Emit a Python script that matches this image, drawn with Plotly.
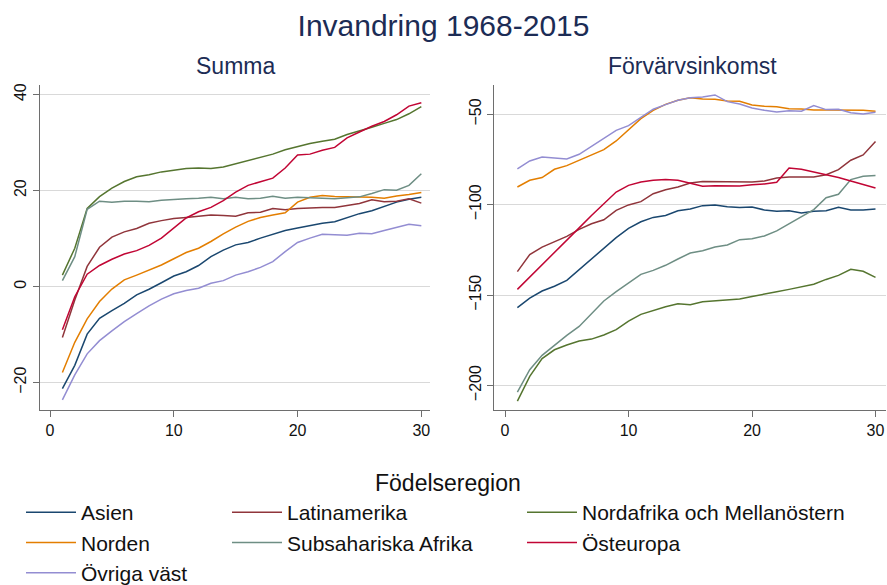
import plotly.graph_objects as go

x_years = list(range(1, 31))

series_names = ["Asien", "Latinamerika", "Nordafrika och Mellanöstern",
                "Norden", "Subsahariska Afrika", "Östeuropa", "Övriga väst"]

colors = {
    "Asien": "#1a476f",
    "Latinamerika": "#90353b",
    "Nordafrika och Mellanöstern": "#55752f",
    "Norden": "#e37e00",
    "Subsahariska Afrika": "#6e8e84",
    "Östeuropa": "#c10534",
    "Övriga väst": "#938dd2",
}

# Summa (left panel)
summa_asien = [-21.25, -16.4, -9.9, -6.6, -5.0, -3.5, -1.7, -0.55, 0.8, 2.2,
               3.1, 4.4, 6.25, 7.6, 8.7, 9.2, 10.1, 10.9, 11.7, 12.2,
               12.7, 13.2, 13.5, 14.4, 15.2, 15.8, 16.7, 17.6, 18.2, 18.6]
summa_latin = [-10.6, -2.8, 4.2, 8.2, 10.3, 11.4, 12.1, 13.2, 13.75, 14.2,
               14.4, 14.6, 14.9, 14.8, 14.65, 15.4, 15.5, 16.25, 16.0, 16.25,
               16.4, 16.5, 16.5, 16.9, 17.3, 18.1, 17.7, 17.8, 18.3, 17.4]
summa_nordafrika = [2.4, 8.0, 16.3, 18.75, 20.5, 21.9, 22.9, 23.3, 23.9, 24.2,
                    24.6, 24.7, 24.6, 24.9, 25.6, 26.25, 27.0, 27.6, 28.5, 29.2,
                    29.8, 30.3, 30.7, 31.7, 32.4, 33.2, 34.0, 34.8, 36.0, 37.5]
summa_norden = [-17.9, -11.6, -6.7, -3.1, -0.5, 1.4, 2.4, 3.5, 4.5, 5.8,
                7.1, 8.0, 9.4, 11.0, 12.4, 13.6, 14.4, 14.9, 15.4, 17.6,
                18.6, 19.0, 18.75, 18.7, 18.7, 18.6, 18.4, 18.9, 19.2, 19.6]
summa_subsahara = [1.25, 6.25, 16.1, 17.8, 17.6, 17.8, 17.8, 17.7, 18.0, 18.2,
                   18.3, 18.4, 18.6, 18.3, 18.6, 18.3, 18.4, 18.8, 18.4, 18.6,
                   18.5, 18.5, 18.3, 18.5, 18.7, 19.4, 20.2, 20.1, 21.1, 23.5]
summa_osteuropa = [-9.0, -2.1, 2.6, 4.4, 5.7, 6.8, 7.5, 8.6, 10.1, 12.2,
                   14.3, 15.6, 16.5, 17.9, 19.7, 21.1, 21.8, 22.6, 24.7, 27.4,
                   27.6, 28.4, 29.0, 31.0, 32.2, 33.4, 34.4, 35.8, 37.6, 38.3]
summa_ovriga = [-23.6, -18.4, -14.0, -11.25, -9.2, -7.3, -5.6, -4.0, -2.6, -1.5,
                -0.8, -0.35, 0.7, 1.25, 2.4, 3.1, 4.0, 5.2, 7.3, 9.2,
                10.1, 10.9, 10.8, 10.7, 11.1, 11.0, 11.7, 12.4, 13.0, 12.7]

# Förvärvsinkomst (right panel)
inkomst_asien = [-156.9, -151.6, -147.7, -145.1, -141.8, -135.9, -130.2, -123.9, -118.2, -113.05,
                 -109.4, -107.0, -105.9, -103.3, -102.4, -100.5, -100.1, -101.1, -101.6, -101.25,
                 -102.9, -103.65, -103.3, -104.6, -103.65, -103.3, -101.4, -102.9, -102.9, -102.4]
inkomst_latin = [-137.0, -127.6, -123.4, -120.6, -117.5, -113.6, -110.5, -108.3, -103.1, -100.1,
                 -98.3, -93.9, -91.7, -90.2, -88.0, -87.2, -87.2, -87.1, -87.4, -87.4,
                 -86.9, -85.2, -84.7, -84.7, -84.7, -83.4, -80.6, -75.4, -72.5, -65.1]
inkomst_nordafrika = [-208.6, -194.9, -185.1, -180.2, -177.6, -175.4, -174.3, -172.05, -169.1, -164.3,
                      -160.6, -158.4, -156.4, -154.7, -155.3, -153.6, -153.1, -152.9, -152.1, -150.7,
                      -149.6, -148.1, -146.8, -145.5, -144.0, -141.3, -139.05, -135.7, -136.8, -140.2]
inkomst_norden = [-90.2, -86.5, -85.0, -80.4, -78.4, -75.4, -72.5, -69.5, -64.75, -58.85,
                  -52.4, -47.8, -44.5, -42.25, -40.8, -41.5, -41.7, -42.6, -42.8, -44.8,
                  -45.6, -45.8, -46.9, -47.05, -47.6, -47.6, -47.6, -47.8, -47.8, -48.3]
inkomst_subsahara = [-203.6, -191.2, -183.3, -177.8, -172.2, -167.3, -160.3, -153.2, -148.1, -143.3,
                     -138.5, -136.3, -133.5, -130.0, -126.7, -125.4, -123.4, -122.3, -119.3, -118.8,
                     -117.3, -114.5, -110.5, -106.4, -102.7, -96.1, -94.25, -86.1, -84.3, -83.9]
inkomst_osteuropa = [-146.8, -139.9, -133.1, -126.3, -119.6, -112.8, -106.0, -99.4, -93.0, -89.3,
                     -87.4, -86.5, -86.0, -86.5, -88.35, -89.8, -89.5, -89.5, -89.6, -88.9,
                     -88.5, -87.6, -79.7, -80.4, -81.9, -83.6, -85.0, -86.9, -88.9, -90.7]
inkomst_ovriga = [-80.2, -75.8, -73.6, -74.2, -74.7, -72.1, -67.7, -62.9, -58.85, -56.3,
                  -51.5, -47.2, -44.65, -42.25, -40.8, -40.4, -39.3, -43.0, -44.3, -46.5,
                  -47.8, -48.7, -48.0, -48.3, -45.2, -47.4, -47.2, -49.1, -49.8, -48.9]

summa = {
    "Asien": summa_asien, "Latinamerika": summa_latin,
    "Nordafrika och Mellanöstern": summa_nordafrika, "Norden": summa_norden,
    "Subsahariska Afrika": summa_subsahara, "Östeuropa": summa_osteuropa,
    "Övriga väst": summa_ovriga,
}
inkomst = {
    "Asien": inkomst_asien, "Latinamerika": inkomst_latin,
    "Nordafrika och Mellanöstern": inkomst_nordafrika, "Norden": inkomst_norden,
    "Subsahariska Afrika": inkomst_subsahara, "Östeuropa": inkomst_osteuropa,
    "Övriga väst": inkomst_ovriga,
}

left_yticks = [-20, 0, 20, 40]
right_yticks = [-200, -150, -100, -50]
xticks = [0, 10, 20, 30]

legend_of = {
    "Asien": "legend", "Norden": "legend", "Övriga väst": "legend",
    "Latinamerika": "legend2", "Subsahariska Afrika": "legend2",
    "Nordafrika och Mellanöstern": "legend3", "Östeuropa": "legend3",
}

FONT = "Liberation Sans, Arial, sans-serif"
W, H = 887, 585

fig = go.Figure()
for name in series_names:
    fig.add_trace(go.Scatter(x=x_years, y=summa[name], mode="lines", name=name,
                             line=dict(color=colors[name], width=1.5),
                             xaxis="x", yaxis="y", legend=legend_of[name],
                             legendgroup=name))
for name in series_names:
    fig.add_trace(go.Scatter(x=x_years, y=inkomst[name], mode="lines", name=name,
                             line=dict(color=colors[name], width=1.5),
                             xaxis="x2", yaxis="y2", showlegend=False,
                             legendgroup=name))

def px_x(p):
    return p / W

def px_y(p):
    return 1 - p / H

ydom = [px_y(410), px_y(85)]
axis_common = dict(showline=True, linecolor="#6e6e6e", linewidth=1.3,
                   ticks="outside", ticklen=6, tickcolor="#6e6e6e", tickwidth=1.3,
                   tickfont=dict(family=FONT, size=16, color="#111111"),
                   zeroline=False, automargin=False)

legend_common = dict(yanchor="top", y=px_y(492), orientation="v", xanchor="left",
                     font=dict(family=FONT, size=21, color="#111111"),
                     itemwidth=50, tracegroupgap=0, bgcolor="rgba(0,0,0,0)")

fig.update_layout(
    width=W, height=H,
    margin=dict(l=0, r=0, t=0, b=0, autoexpand=False),
    paper_bgcolor="white", plot_bgcolor="white",
    font=dict(family=FONT, color="#111111"),
    title=dict(text="Invandring 1968-2015", x=0.5, xanchor="center",
               y=px_y(25), yanchor="middle",
               font=dict(family=FONT, size=30, color="#1c2c55")),
    xaxis=dict(domain=[px_x(40), px_x(430)], range=[-0.81, 30.7],
               tickvals=xticks, showgrid=False, anchor="y", **axis_common),
    yaxis=dict(domain=ydom, range=[-25.7, 42.0], tickvals=left_yticks,
               tickangle=-90, showgrid=True, gridcolor="#d9d9d9", gridwidth=1.2,
               anchor="x", **axis_common),
    xaxis2=dict(domain=[px_x(494.3), px_x(886)], range=[-0.87, 30.85],
                tickvals=xticks, showgrid=False, anchor="y2", **axis_common),
    yaxis2=dict(domain=ydom, range=[-213.5, -33.8], tickvals=right_yticks,
                tickangle=-90, showgrid=True, gridcolor="#d9d9d9", gridwidth=1.2,
                anchor="x2", **axis_common),
    legend=dict(x=px_x(21), **legend_common),
    legend2=dict(x=px_x(227), **legend_common),
    legend3=dict(x=px_x(522), **legend_common),
    annotations=[
        dict(text="Summa", x=px_x(235), y=px_y(66), xref="paper", yref="paper",
             xanchor="center", yanchor="middle", showarrow=False,
             font=dict(family=FONT, size=23, color="#1c2c55")),
        dict(text="Förvärvsinkomst", x=px_x(692), y=px_y(66), xref="paper", yref="paper",
             xanchor="center", yanchor="middle", showarrow=False,
             font=dict(family=FONT, size=23, color="#1c2c55")),
        dict(text="Födelseregion", x=px_x(448), y=px_y(483), xref="paper", yref="paper",
             xanchor="center", yanchor="middle", showarrow=False,
             font=dict(family=FONT, size=23, color="#111111")),
    ],
)

fig.write_html("out.html", config={"displayModeBar": False},
               post_script="document.body.style.margin='0';")
